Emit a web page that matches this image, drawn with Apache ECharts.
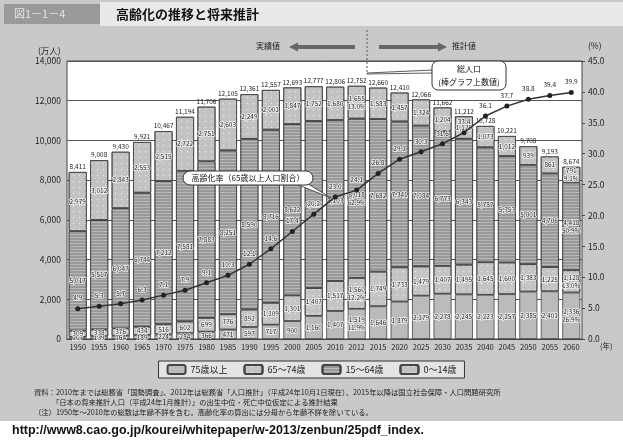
<!DOCTYPE html>
<html>
<head>
<meta charset="utf-8">
<script src="https://cdn.jsdelivr.net/npm/echarts@6/dist/echarts.min.js"></script>
<style>
  html, body { margin: 0; padding: 0; background: #c9c9c9; }
  #chart { width: 623px; height: 441px; }
</style>
</head>
<body>
<div id="chart"></div>
<script>
// 年
let years = ['1950', '1955', '1960', '1965', '1970', '1975', '1980', '1985', '1990', '1995', '2000', '2005',
    '2010', '2012', '2015', '2020', '2025', '2030', '2035', '2040', '2045', '2050', '2055', '2060']
// 総人口（万人）棒グラフ上数値
let totals = [8411, 9008, 9430, 9921, 10467, 11194, 11706, 12105, 12361, 12557, 12693, 12777,
    12806, 12752, 12660, 12410, 12066, 11662, 11212, 10728, 10221, 9708, 9193, 8674]
let age75 = [107, 139, 164, 189, 224, 284, 366, 471, 597, 717, 900, 1160,
    1407, 1519, 1646, 1879, 2179, 2278, 2245, 2223, 2257, 2385, 2401, 2336]
let age65 = [309, 338, 376, 434, 516, 602, 699, 776, 892, 1109, 1301, 1407,
    1517, 1560, 1749, 1733, 1479, 1407, 1495, 1645, 1600, 1383, 1225, 1128]
let age15 = [5017, 5517, 6047, 6744, 7212, 7581, 7883, 8251, 8590, 8716, 8622, 8409,
    8103, 8018, 7682, 7341, 7084, 6773, 6343, 5787, 5353, 5001, 4706, 4418]
let age0 = [2979, 3012, 2843, 2553, 2515, 2722, 2751, 2603, 2249, 2001, 1847, 1752,
    1680, 1655, 1583, 1457, 1324, 1204, 1129, 1073, 1012, 939, 861, 791]
// 高齢化率（%）
let agingRate = [4.9, 5.3, 5.7, 6.3, 7.1, 7.9, 9.1, 10.3, 12.1, 14.6, 17.4, 20.2,
    23.0, 24.1, 26.8, 29.1, 30.3, 31.6, 33.4, 36.1, 37.7, 38.8, 39.4, 39.9]
// 2012年・2060年の構成比（75+, 65-74, 15-64, 0-14）
let share2012 = [11.9, 12.2, 62.9, 13.0]
let share2060 = [26.9, 13.0, 50.9, 9.1]

let chart = echarts.init(document.getElementById('chart'))

let font = '"Noto Sans CJK JP", sans-serif'

// 点々模様
let dotDecal = {
    symbol: 'circle',
    symbolSize: 0.5,
    dashArrayX: [[3, 3]],
    dashArrayY: [3, 3],
    color: 'rgba(240,240,240,0.8)'
}
// 横縞模様
let lineDecal = {
    symbol: 'rect',
    symbolSize: 1,
    dashArrayX: [[1, 0]],
    dashArrayY: [1, 2],
    color: 'rgba(205,205,205,0.6)'
}

function segLabel(shareIdx) {
    return {
        show: true,
        position: 'inside',
        fontSize: 6.5,
        lineHeight: 8,
        color: '#222',
        fontFamily: font,
        textBorderColor: 'rgba(255,255,255,0.85)',
        textBorderWidth: 1.5,
        formatter: function (p) {
            let v = p.value.toLocaleString('en-US')
            if (p.dataIndex === 13) return v + '\n' + share2012[shareIdx].toFixed(1) + '%'
            if (p.dataIndex === 23) return v + '\n' + share2060[shareIdx].toFixed(1) + '%'
            return v
        }
    }
}

function barSeries(name, data, color, decal, shareIdx) {
    return {
        name: name,
        type: 'bar',
        stack: 'pop',
        data: data,
        barCategoryGap: '16%',
        itemStyle: {
            color: color,
            decal: decal,
            borderColor: '#444',
            borderWidth: 0.8
        },
        label: segLabel(shareIdx)
    }
}

chart.setOption({
    animation: false,
    backgroundColor: '#c9c9c9',
    textStyle: { fontFamily: font },
    grid: {
        show: true,
        left: 67,
        right: 41,
        top: 61,
        bottom: 102,
        backgroundColor: '#fff',
        borderColor: '#444',
        borderWidth: 1
    },
    legend: {
        data: ['75歳以上', '65～74歳', '15～64歳', '0～14歳'],
        top: 361,
        left: 'center',
        itemWidth: 18,
        itemHeight: 9,
        itemGap: 16,
        padding: [3, 8],
        borderColor: '#333',
        borderWidth: 1,
        backgroundColor: '#e4e4e4',
        textStyle: { fontSize: 9, color: '#222', fontFamily: font }
    },
    xAxis: {
        type: 'category',
        data: years,
        axisTick: { show: false },
        axisLine: { lineStyle: { color: '#444' } },
        axisLabel: { interval: 0, fontSize: 7.5, color: '#222', margin: 4 }
    },
    yAxis: [{
        type: 'value',
        min: 0,
        max: 14000,
        interval: 2000,
        axisLine: { show: false },
        axisTick: { show: false },
        splitLine: { lineStyle: { color: '#555', width: 1 } },
        axisLabel: {
            fontSize: 8.5,
            color: '#222',
            margin: 6,
            formatter: v => v.toLocaleString('en-US')
        }
    }, {
        type: 'value',
        min: 0,
        max: 45,
        interval: 5,
        position: 'right',
        axisLine: { show: false },
        axisTick: { show: true, length: 3, lineStyle: { color: '#444' } },
        splitLine: { show: false },
        axisLabel: {
            fontSize: 8.5,
            color: '#222',
            margin: 6,
            formatter: v => v.toFixed(1)
        }
    }],
    series: [
        barSeries('75歳以上', age75, '#bbbbbb', null, 0),
        barSeries('65～74歳', age65, '#c4c4c4', dotDecal, 1),
        barSeries('15～64歳', age15, '#999999', lineDecal, 2),
        barSeries('0～14歳', age0, '#c2c2c2', dotDecal, 3),
        {
            // 総人口ラベル用
            name: 'total',
            type: 'bar',
            stack: 'pop',
            data: totals.map(() => 0),
            itemStyle: { color: 'transparent' },
            label: {
                show: true,
                position: 'top',
                distance: 2,
                fontSize: 6.5,
                color: '#222',
                formatter: p => totals[p.dataIndex].toLocaleString('en-US')
            }
        },
        {
            name: '高齢化率',
            type: 'line',
            yAxisIndex: 1,
            data: agingRate,
            symbol: 'circle',
            symbolSize: 5,
            lineStyle: { color: '#333', width: 1.5 },
            itemStyle: { color: '#222' },
            label: {
                show: true,
                position: 'top',
                distance: 5,
                fontSize: 6.5,
                color: '#222',
                textBorderColor: 'rgba(255,255,255,0.85)',
                textBorderWidth: 1.5,
                formatter: p => p.value.toFixed(1)
            },
            z: 5
        }
    ],
    graphic: [
        // タイトル
        { type: 'rect', shape: { x: 100, y: 2, width: 523, height: 24 }, style: { fill: '#e9e9e9' } },
        { type: 'rect', shape: { x: 4, y: 4, width: 96, height: 20 }, style: { fill: '#9a9a9a' } },
        { type: 'text', x: 14, y: 14, style: { text: '図1－1－4', fill: '#e4e4e4', fontSize: 11, fontFamily: font, verticalAlign: 'middle' } },
        { type: 'text', x: 116, y: 14, style: { text: '高齢化の推移と将来推計', fill: '#111', fontSize: 13, fontWeight: 'bold', fontFamily: font, verticalAlign: 'middle' } },
        // 単位
        { type: 'text', x: 38, y: 47, style: { text: '(万人)', fill: '#222', fontSize: 8.5, fontFamily: font } },
        { type: 'text', x: 588, y: 42, style: { text: '(%)', fill: '#222', fontSize: 8.5, fontFamily: font } },
        { type: 'text', x: 600, y: 342, style: { text: '(年)', fill: '#222', fontSize: 7.5, fontFamily: font } },
        // 実績値・推計値
        { type: 'text', x: 256, y: 42, style: { text: '実績値', fill: '#222', fontSize: 8, fontFamily: font } },
        { type: 'polygon', shape: { points: [[289, 47], [298, 42.5], [298, 45], [355, 45], [355, 49], [298, 49], [298, 51.5]] }, style: { fill: '#666' } },
        { type: 'polygon', shape: { points: [[447, 47], [438, 42.5], [438, 45], [379, 45], [379, 49], [438, 49], [438, 51.5]] }, style: { fill: '#666' } },
        { type: 'text', x: 452, y: 42, style: { text: '推計値', fill: '#222', fontSize: 8, fontFamily: font } },
        { type: 'line', shape: { x1: 367, y1: 30, x2: 367, y2: 73 }, style: { stroke: '#555', lineWidth: 1, lineDash: [2, 2] } },
        // 総人口の吹き出し
        { type: 'polygon', shape: { points: [[367, 73], [433, 70], [433, 73], [367, 74]] }, style: { fill: '#fff', stroke: '#333', lineWidth: 0.8 }, z: 10 },
        { type: 'rect', shape: { x: 432, y: 61, width: 74, height: 29, r: 6 }, style: { fill: '#fff', stroke: '#333', lineWidth: 1 }, z: 10 },
        { type: 'text', x: 469, y: 69, style: { text: '総人口', fill: '#111', fontSize: 8, fontFamily: font, align: 'center', verticalAlign: 'middle' }, z: 11 },
        { type: 'text', x: 469, y: 82, style: { text: '(棒グラフ上数値)', fill: '#111', fontSize: 8, fontFamily: font, align: 'center', verticalAlign: 'middle' }, z: 11 },
        // 高齢化率の吹き出し
        { type: 'polygon', shape: { points: [[296, 184], [308, 184], [331, 198]] }, style: { fill: '#fff', stroke: '#333', lineWidth: 0.8 }, z: 10 },
        { type: 'rect', shape: { x: 183, y: 171, width: 130, height: 14, r: 7 }, style: { fill: '#fff', stroke: '#333', lineWidth: 1 }, z: 10 },
        { type: 'text', x: 248, y: 178, style: { text: '高齢化率（65歳以上人口割合）', fill: '#111', fontSize: 8, fontFamily: font, align: 'center', verticalAlign: 'middle' }, z: 11 },
        // 資料・注
        { type: 'text', x: 34, y: 389, style: { text: '資料：2010年までは総務省「国勢調査」、2012年は総務省「人口推計」（平成24年10月1日現在）、2015年以降は国立社会保障・人口問題研究所', fill: '#222', fontSize: 7.3, fontFamily: font } },
        { type: 'text', x: 52, y: 399, style: { text: '「日本の将来推計人口（平成24年1月推計）」の出生中位・死亡中位仮定による推計結果', fill: '#222', fontSize: 7.3, fontFamily: font } },
        { type: 'text', x: 34, y: 409, style: { text: '（注）1950年～2010年の総数は年齢不詳を含む。高齢化率の算出には分母から年齢不詳を除いている。', fill: '#222', fontSize: 7.3, fontFamily: font } },
        // URL
        { type: 'rect', shape: { x: 0, y: 421, width: 623, height: 20 }, style: { fill: '#fff' } },
        { type: 'text', x: 12, y: 431, style: { text: 'http://www8.cao.go.jp/kourei/whitepaper/w-2013/zenbun/25pdf_index.', fill: '#111', fontSize: 12.5, fontWeight: 'bold', fontFamily: '"Liberation Sans", sans-serif', verticalAlign: 'middle' } }
    ]
})
</script>
</body>
</html>
